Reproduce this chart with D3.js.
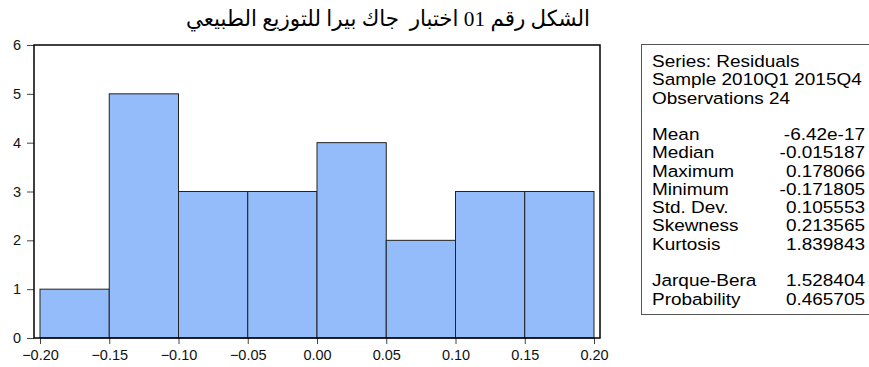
<!DOCTYPE html>
<html><head><meta charset="utf-8">
<script src="https://cdn.jsdelivr.net/npm/d3@7"></script>
<style>
html,body{margin:0;padding:0;background:#fff;}
svg{display:block;}
</style></head>
<body>
<script>
const titleText = "الشكل رقم 01 اختبار  جاك بيرا للتوزيع الطبيعي";
const binStarts = [-0.20, -0.15, -0.10, -0.05, 0.00, 0.05, 0.10, 0.15];
const binWidth = 0.05;
const counts = [1, 5, 3, 3, 4, 2, 3, 3];
const xTicks = [-0.20, -0.15, -0.10, -0.05, 0.00, 0.05, 0.10, 0.15, 0.20];
const yTicks = [0, 1, 2, 3, 4, 5, 6];
const headerLines = ["Series: Residuals", "Sample 2010Q1 2015Q4", "Observations 24"];
const statLabels = ["Mean", "Median", "Maximum", "Minimum", "Std. Dev.", "Skewness", "Kurtosis"];
const statValues = ["-6.42e-17", "-0.015187", "0.178066", "-0.171805", "0.105553", "0.213565", "1.839843"];
const testLabels = ["Jarque-Bera", "Probability"];
const testValues = ["1.528404", "0.465705"];

const W = 869, H = 367;
const frame = {l: 34, r: 600, t: 45, b: 338};
const svg = d3.select("body").append("svg").attr("width", W).attr("height", H);

const x = d3.scaleLinear().domain([-0.20, 0.20]).range([40, 594]);
const y = d3.scaleLinear().domain([0, 6]).range([frame.b, frame.t]);

// title
svg.append("text")
  .attr("x", 388).attr("y", 26)
  .attr("text-anchor", "middle")
  .attr("direction", "rtl")
  .style("white-space", "pre")
  .attr("font-family", "'Times New Roman','Liberation Serif','DejaVu Sans',serif")
  .attr("font-size", 22)
  .attr("textLength", 404)
  .attr("lengthAdjust", "spacingAndGlyphs")
  .attr("fill", "#000")
  .text(titleText);

// bars
svg.append("g").selectAll("rect").data(counts).join("rect")
  .attr("x", (d, i) => x(binStarts[i]))
  .attr("y", d => y(d))
  .attr("width", (d, i) => x(binStarts[i] + binWidth) - x(binStarts[i]))
  .attr("height", d => y(0) - y(d))
  .attr("fill", "#94bcfb")
  .attr("stroke", "#222")
  .attr("stroke-width", 1);

// axes
const tickFont = 14.5;
const yAxis = svg.append("g").attr("transform", `translate(${frame.l},0)`)
  .call(d3.axisLeft(y).tickValues(yTicks).tickSize(7).tickPadding(6).tickFormat(d3.format("d")));
const xAxis = svg.append("g").attr("transform", `translate(0,${frame.b})`)
  .call(d3.axisBottom(x).tickValues(xTicks).tickSize(6).tickPadding(6).tickFormat(d3.format(".2f")));
[yAxis, xAxis].forEach(g => {
  g.select(".domain").remove();
  g.selectAll("line").attr("stroke", "#444");
  g.selectAll("text").attr("font-family", "'Liberation Sans',Arial,sans-serif").attr("font-size", tickFont).attr("fill", "#111");
});

// frame
svg.append("rect")
  .attr("x", frame.l).attr("y", frame.t)
  .attr("width", frame.r - frame.l).attr("height", frame.b - frame.t)
  .attr("fill", "none").attr("stroke", "#000").attr("stroke-width", 1.5);

// stats box
const box = {l: 641, t: 44, b: 314};
svg.append("rect")
  .attr("x", box.l + 0.5).attr("y", box.t + 0.5)
  .attr("width", W + 10 - box.l).attr("height", box.b - box.t)
  .attr("fill", "#fff").attr("stroke", "#555").attr("stroke-width", 1);

const rows = [];
headerLines.forEach(t => rows.push({label: t, value: ""}));
rows.push(null);
statLabels.forEach((t, i) => rows.push({label: t, value: statValues[i]}));
rows.push(null);
testLabels.forEach((t, i) => rows.push({label: t, value: testValues[i]}));

const lineH = 18.27, base0 = 67, sx = 1.15;
const sg = svg.append("g")
  .attr("font-family", "'Liberation Sans',Arial,sans-serif")
  .attr("font-size", 16.5).attr("fill", "#000");
rows.forEach((r, i) => {
  if (!r) return;
  const yy = base0 + i * lineH;
  sg.append("text").attr("transform", `translate(652,${yy}) scale(${sx},1)`).text(r.label);
  if (r.value) sg.append("text").attr("transform", `translate(865,${yy}) scale(${sx},1)`)
    .attr("text-anchor", "end").text(r.value);
});
</script>
</body></html>
